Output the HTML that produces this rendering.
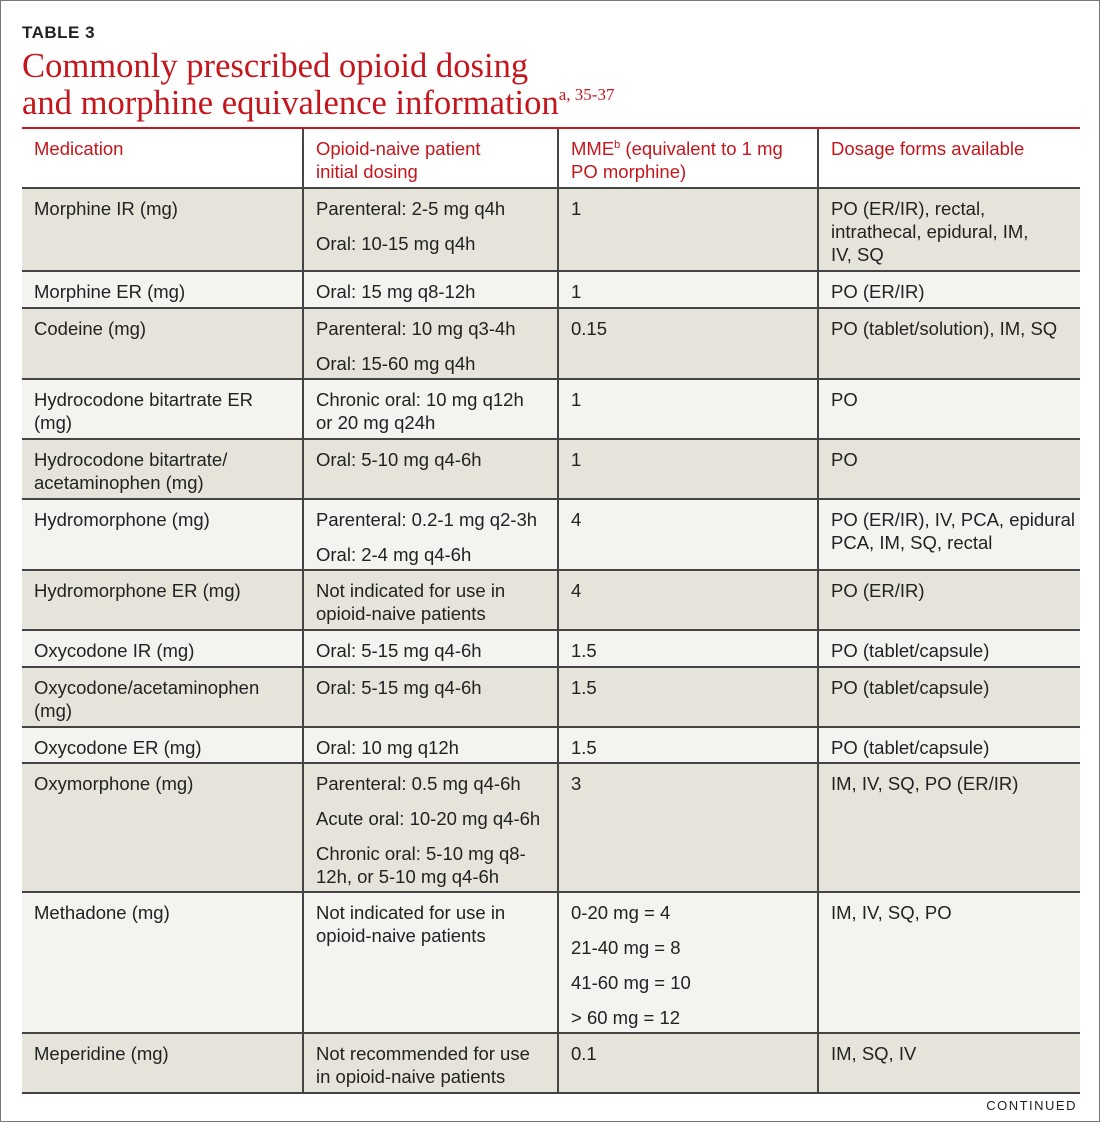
<!DOCTYPE html>
<html><head><meta charset="utf-8"><style>
body{margin:0;width:1100px;height:1122px;background:#fff;position:relative;overflow:hidden;font-family:"Liberation Sans",sans-serif;}
.frame{position:absolute;left:0;top:0;width:1098px;height:1120px;border:1px solid #777;}
.t3{position:absolute;left:22px;top:23px;font-weight:bold;font-size:17px;letter-spacing:0.5px;color:#222;}
.title{position:absolute;left:22px;top:48px;font-family:"Liberation Serif",serif;font-size:34.6px;line-height:37px;color:#c4161c;white-space:nowrap;}
.title .sp{font-size:17px;position:relative;top:-14px;}
.row{position:absolute;left:22px;width:1058px;border-bottom:2px solid #444;box-sizing:border-box;}
.c{position:absolute;top:0;bottom:0;padding:8px 0 0 12px;box-sizing:border-box;font-size:18.5px;line-height:23px;color:#222;white-space:nowrap;}
.c p{margin:0 0 12px 0;}
.c sup{line-height:0;font-size:11px;}
.c1{left:0;width:280px}
.c2{left:280px;width:255px;border-left:2px solid #444;}
.c3{left:535px;width:260px;border-left:2px solid #444;}
.c4{left:795px;width:263px;border-left:2px solid #444;}
.h .c{color:#c4161c;}
.s{background:#e6e3da}.l{background:#f4f3ef}
.topline{position:absolute;left:22px;top:127px;width:1058px;height:2px;background:#c4161c;}
.cont{position:absolute;right:23px;top:1098px;font-size:13px;letter-spacing:1.5px;color:#222;}
</style></head><body>
<div class="frame"></div>
<div class="t3">TABLE 3</div>
<div class="title">Commonly prescribed opioid dosing<br>and morphine equivalence information<span class="sp">a, 35-37</span></div>
<div class="topline"></div>
<div class="row h" style="top:129px;height:60px"><div class="c c1">Medication</div><div class="c c2">Opioid-naive patient<br>initial dosing</div><div class="c c3">MME<sup>b</sup> (equivalent to 1 mg<br>PO morphine)</div><div class="c c4">Dosage forms available</div></div>
<div class="row s" style="top:189px;height:83px"><div class="c c1">Morphine IR (mg)</div><div class="c c2"><p>Parenteral: 2-5 mg q4h</p><p>Oral: 10-15 mg q4h</p></div><div class="c c3">1</div><div class="c c4">PO (ER/IR), rectal,<br>intrathecal, epidural, IM,<br>IV, SQ</div></div>
<div class="row l" style="top:272px;height:37px"><div class="c c1">Morphine ER (mg)</div><div class="c c2">Oral: 15 mg q8-12h</div><div class="c c3">1</div><div class="c c4">PO (ER/IR)</div></div>
<div class="row s" style="top:309px;height:71px"><div class="c c1">Codeine (mg)</div><div class="c c2"><p>Parenteral: 10 mg q3-4h</p><p>Oral: 15-60 mg q4h</p></div><div class="c c3">0.15</div><div class="c c4">PO (tablet/solution), IM, SQ</div></div>
<div class="row l" style="top:380px;height:60px"><div class="c c1">Hydrocodone bitartrate ER<br>(mg)</div><div class="c c2">Chronic oral: 10 mg q12h<br>or 20 mg q24h</div><div class="c c3">1</div><div class="c c4">PO</div></div>
<div class="row s" style="top:440px;height:60px"><div class="c c1">Hydrocodone bitartrate/<br>acetaminophen (mg)</div><div class="c c2">Oral: 5-10 mg q4-6h</div><div class="c c3">1</div><div class="c c4">PO</div></div>
<div class="row l" style="top:500px;height:71px"><div class="c c1">Hydromorphone (mg)</div><div class="c c2"><p>Parenteral: 0.2-1 mg q2-3h</p><p>Oral: 2-4 mg q4-6h</p></div><div class="c c3">4</div><div class="c c4">PO (ER/IR), IV, PCA, epidural<br>PCA, IM, SQ, rectal</div></div>
<div class="row s" style="top:571px;height:60px"><div class="c c1">Hydromorphone ER (mg)</div><div class="c c2">Not indicated for use in<br>opioid-naive patients</div><div class="c c3">4</div><div class="c c4">PO (ER/IR)</div></div>
<div class="row l" style="top:631px;height:37px"><div class="c c1">Oxycodone IR (mg)</div><div class="c c2">Oral: 5-15 mg q4-6h</div><div class="c c3">1.5</div><div class="c c4">PO (tablet/capsule)</div></div>
<div class="row s" style="top:668px;height:60px"><div class="c c1">Oxycodone/acetaminophen<br>(mg)</div><div class="c c2">Oral: 5-15 mg q4-6h</div><div class="c c3">1.5</div><div class="c c4">PO (tablet/capsule)</div></div>
<div class="row l" style="top:728px;height:36px"><div class="c c1">Oxycodone ER (mg)</div><div class="c c2">Oral: 10 mg q12h</div><div class="c c3">1.5</div><div class="c c4">PO (tablet/capsule)</div></div>
<div class="row s" style="top:764px;height:129px"><div class="c c1">Oxymorphone (mg)</div><div class="c c2"><p>Parenteral: 0.5 mg q4-6h</p><p>Acute oral: 10-20 mg q4-6h</p><p>Chronic oral: 5-10 mg q8-<br>12h, or 5-10 mg q4-6h</p></div><div class="c c3">3</div><div class="c c4">IM, IV, SQ, PO (ER/IR)</div></div>
<div class="row l" style="top:893px;height:141px"><div class="c c1">Methadone (mg)</div><div class="c c2">Not indicated for use in<br>opioid-naive patients</div><div class="c c3"><p>0-20 mg = 4</p><p>21-40 mg = 8</p><p>41-60 mg = 10</p><p>&gt; 60 mg = 12</p></div><div class="c c4">IM, IV, SQ, PO</div></div>
<div class="row s" style="top:1034px;height:60px"><div class="c c1">Meperidine (mg)</div><div class="c c2">Not recommended for use<br>in opioid-naive patients</div><div class="c c3">0.1</div><div class="c c4">IM, SQ, IV</div></div>
<div class="cont">CONTINUED</div>
</body></html>
